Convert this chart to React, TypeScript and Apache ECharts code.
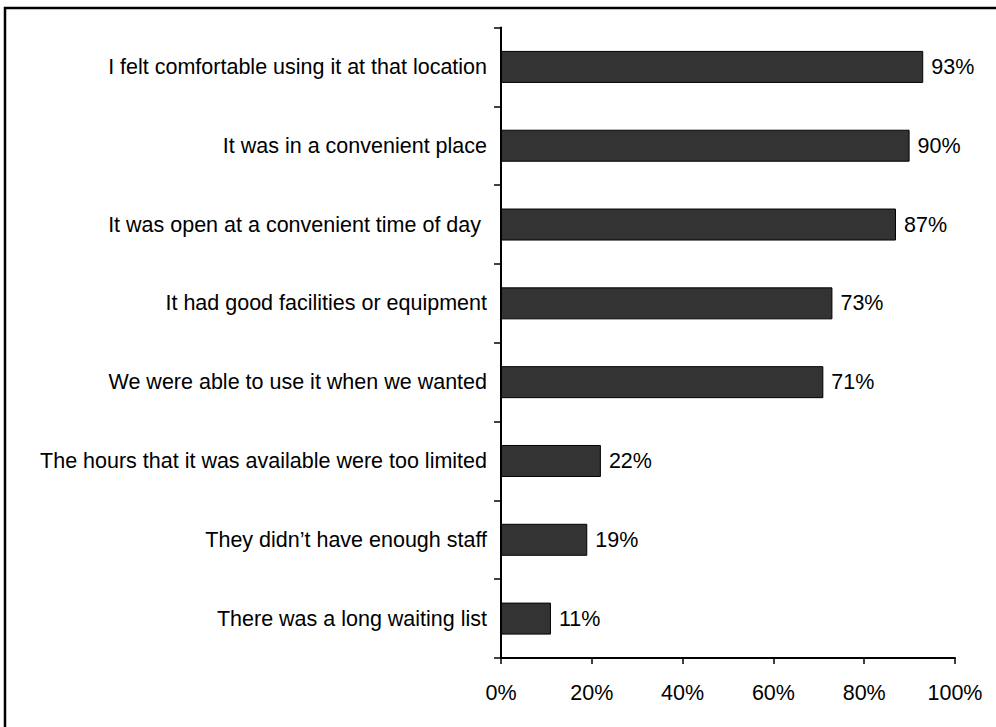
import React, { useEffect, useRef } from "react";
import * as echarts from "echarts";

const categories = [
  "I felt comfortable using it at that location",
  "It was in a convenient place",
  "It was open at a convenient time of day ",
  "It had good facilities or equipment",
  "We were able to use it when we wanted",
  "The hours that it was available were too limited",
  "They didn\u2019t have enough staff",
  "There was a long waiting list",
];
const values = [93, 90, 87, 73, 71, 22, 19, 11];
const xTicks = [0, 20, 40, 60, 80, 100];

const FONT = "'Liberation Sans', Arial, sans-serif";
const FS = 21.5;

export default function App() {
  const ref = useRef<HTMLDivElement>(null);
  useEffect(() => {
    if (!ref.current) return;
    const chart = echarts.init(ref.current, null, { renderer: "svg" });
    chart.setOption({
      animation: false,
      backgroundColor: "#ffffff",
      grid: { left: 501, right: 41, top: 27.5, bottom: 69, containLabel: false },
      graphic: [
        {
          type: "rect",
          shape: { x: 5, y: 8, width: 1000, height: 730 },
          style: { fill: "none", stroke: "#000", lineWidth: 2.5 },
          silent: true,
        },
      ],
      xAxis: {
        type: "value",
        min: xTicks[0],
        max: xTicks[xTicks.length - 1],
        interval: 20,
        axisLine: { show: true, lineStyle: { color: "#000", width: 2 } },
        axisTick: { show: true, length: 6, lineStyle: { color: "#000", width: 1.5 } },
        splitLine: { show: false },
        axisLabel: {
          formatter: (v: number) => v + "%",
          color: "#000",
          fontSize: FS,
          fontFamily: FONT,
          margin: 24,
        },
      },
      yAxis: {
        type: "category",
        data: categories,
        inverse: true,
        axisLine: { show: true, lineStyle: { color: "#000", width: 2 } },
        axisTick: { show: true, length: 7, lineStyle: { color: "#000", width: 1.5 } },
        axisLabel: {
          color: "#000",
          fontSize: FS,
          fontFamily: FONT,
          margin: 14,
        },
      },
      series: [
        {
          type: "bar",
          data: values,
          barWidth: 32,
          itemStyle: { color: "#333333", borderColor: "#000", borderWidth: 1 },
          label: {
            show: true,
            position: "right",
            distance: 8,
            formatter: (p: any) => p.value + "%",
            color: "#000",
            fontSize: FS,
            fontFamily: FONT,
          },
        },
      ],
    });
    return () => chart.dispose();
  }, []);
  return (
    <div
      ref={ref}
      style={{ position: "fixed", left: 0, top: 0, width: 996, height: 727 }}
    />
  );
}
